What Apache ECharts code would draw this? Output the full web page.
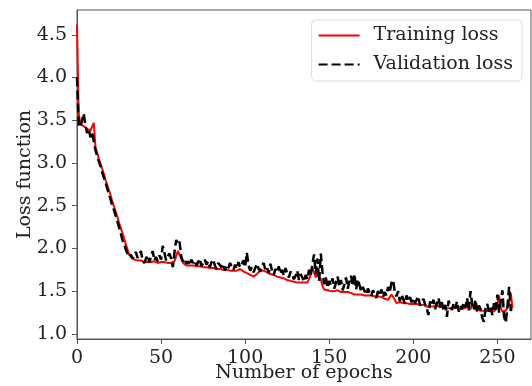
<!DOCTYPE html>
<html>
<head>
<meta charset="utf-8">
<script src="https://cdn.jsdelivr.net/npm/echarts@6/dist/echarts.min.js"></script>
<style>
  html, body { margin: 0; padding: 0; background: #fff; }
  #chart { width: 532px; height: 386px; }
</style>
</head>
<body>
<div id="chart"></div>
<script>
// loss per epoch, epoch = index
const trainLoss = [
  4.62, 3.58, 3.45, 3.44, 3.43, 3.41, 3.40, 3.41, 3.38, 3.39,
  3.47, 3.18, 3.12, 3.05, 2.99, 2.93, 2.87, 2.80, 2.74, 2.68,
  2.62, 2.55, 2.49, 2.43, 2.37, 2.30, 2.24, 2.18, 2.12, 2.05,
  1.99, 1.93, 1.90, 1.88, 1.87, 1.87, 1.86, 1.85, 1.86, 1.85,
  1.84, 1.85, 1.84, 1.85, 1.84, 1.84, 1.85, 1.84, 1.83, 1.84,
  1.84, 1.83, 1.84, 1.83, 1.83, 1.84, 1.83, 1.84, 1.85, 1.91,
  1.97, 1.95, 1.88, 1.83, 1.81, 1.80, 1.81, 1.80, 1.79, 1.80,
  1.79, 1.79, 1.78, 1.79, 1.78, 1.78, 1.77, 1.78, 1.77, 1.77,
  1.76, 1.77, 1.76, 1.76, 1.75, 1.76, 1.75, 1.75, 1.74, 1.75,
  1.74, 1.74, 1.75, 1.74, 1.73, 1.74, 1.75, 1.76, 1.74, 1.73,
  1.72, 1.71, 1.70, 1.69, 1.68, 1.67, 1.68, 1.70, 1.72, 1.74,
  1.75, 1.74, 1.73, 1.72, 1.71, 1.70, 1.69, 1.69, 1.68, 1.67,
  1.66, 1.66, 1.65, 1.65, 1.64, 1.63, 1.63, 1.62, 1.62, 1.61,
  1.61, 1.60, 1.61, 1.60, 1.61, 1.60, 1.62, 1.60, 1.64, 1.70,
  1.78, 1.72, 1.66, 1.70, 1.72, 1.64, 1.56, 1.52, 1.51, 1.51,
  1.51, 1.50, 1.51, 1.50, 1.50, 1.51, 1.50, 1.49, 1.50, 1.49,
  1.48, 1.49, 1.47, 1.48, 1.47, 1.46, 1.47, 1.46, 1.47, 1.46,
  1.46, 1.45, 1.46, 1.45, 1.44, 1.45, 1.44, 1.44, 1.43, 1.44,
  1.43, 1.43, 1.42, 1.41, 1.42, 1.40, 1.43, 1.46, 1.44, 1.40,
  1.36, 1.35, 1.37, 1.39, 1.36, 1.35, 1.36, 1.34, 1.35, 1.36,
  1.35, 1.34, 1.35, 1.36, 1.34, 1.33, 1.34, 1.33, 1.32, 1.33,
  1.32, 1.33, 1.32, 1.31, 1.33, 1.32, 1.31, 1.30, 1.32, 1.31,
  1.30, 1.31, 1.30, 1.32, 1.30, 1.29, 1.31, 1.30, 1.29, 1.31,
  1.30, 1.29, 1.31, 1.30, 1.29, 1.34, 1.30, 1.28, 1.29, 1.28,
  1.27, 1.28, 1.27, 1.26, 1.27, 1.26, 1.27, 1.25, 1.26, 1.27,
  1.33, 1.45, 1.30, 1.26, 1.25, 1.27, 1.26, 1.35, 1.48, 1.30
];

const valLoss = [
  4.00, 3.45, 3.42, 3.40, 3.58, 3.44, 3.35, 3.40, 3.30, 3.36,
  3.25, 3.15, 3.08, 3.02, 2.96, 2.89, 2.83, 2.77, 2.70, 2.63,
  2.57, 2.50, 2.45, 2.38, 2.32, 2.25, 2.18, 2.10, 2.05, 1.99,
  1.94, 1.90, 1.93, 1.88, 1.91, 1.96, 1.89, 1.92, 1.97, 1.86,
  1.83, 1.88, 1.92, 1.84, 1.90, 1.97, 1.86, 1.90, 1.85, 1.92,
  1.87, 2.03, 1.95, 1.86, 1.91, 1.94, 1.88, 1.78, 1.96, 2.10,
  2.05, 2.08, 1.90, 1.85, 1.88, 1.82, 1.85, 1.80, 1.87, 1.83,
  1.86, 1.80, 1.84, 1.88, 1.79, 1.83, 1.87, 1.81, 1.85, 1.78,
  1.84, 1.87, 1.80, 1.76, 1.83, 1.85, 1.78, 1.82, 1.74, 1.80,
  1.77, 1.83, 1.79, 1.75, 1.81, 1.76, 1.84, 1.78, 1.80, 1.86,
  1.78, 1.95, 1.80, 1.74, 1.78, 1.72, 1.77, 1.82, 1.76, 1.73,
  1.80, 1.83, 1.75, 1.78, 1.71, 1.82, 1.74, 1.69, 1.76, 1.72,
  1.79, 1.70, 1.75, 1.68, 1.77, 1.71, 1.66, 1.73, 1.69, 1.64,
  1.68, 1.74, 1.63, 1.70, 1.66, 1.61, 1.69, 1.64, 1.75, 1.68,
  1.82, 1.93, 1.70, 1.88, 1.62, 1.94, 1.72, 1.58, 1.66, 1.54,
  1.62, 1.57, 1.65, 1.53, 1.60, 1.67, 1.55, 1.63, 1.51, 1.58,
  1.66, 1.53, 1.61, 1.68, 1.56, 1.70, 1.52, 1.64, 1.57, 1.49,
  1.55, 1.50, 1.46, 1.53, 1.48, 1.44, 1.51, 1.47, 1.42, 1.50,
  1.46, 1.52, 1.43, 1.49, 1.45, 1.55, 1.48, 1.60, 1.63, 1.49,
  1.44, 1.50, 1.38, 1.46, 1.41, 1.35, 1.45, 1.39, 1.43, 1.37,
  1.42, 1.36, 1.40, 1.44, 1.33, 1.38, 1.41, 1.35, 1.30, 1.22,
  1.38, 1.33, 1.40, 1.29, 1.36, 1.42, 1.31, 1.37, 1.27, 1.34,
  1.20, 1.39, 1.32, 1.28, 1.36, 1.30, 1.38, 1.26, 1.33, 1.29,
  1.37, 1.31, 1.42, 1.27, 1.50, 1.35, 1.28, 1.40, 1.25, 1.33,
  1.29, 1.19, 1.14, 1.30, 1.35, 1.26, 1.31, 1.22, 1.36, 1.28,
  1.46, 1.25, 1.38, 1.51, 1.20, 1.13, 1.32, 1.55, 1.27, 1.33
];

const xTicks = [0, 50, 100, 150, 200, 250];
const yTicks = [1.0, 1.5, 2.0, 2.5, 3.0, 3.5, 4.0, 4.5];

const serif = "DejaVu Serif";
const axisColor = "#555";
const textColor = "#222";

const chart = echarts.init(document.getElementById("chart"));

chart.setOption({
  animation: false,
  grid: {
    left: 77, right: 1, top: 10, bottom: 47,
    outerBoundsMode: "none",
    show: true, borderColor: axisColor, borderWidth: 1
  },
  legend: {
    orient: "vertical",
    right: 10,
    top: 20,
    align: "left",
    itemWidth: 41,
    itemHeight: 14,
    itemGap: 10,
    padding: [6, 9, 7, 6],
    backgroundColor: "#fff",
    borderColor: "#ddd",
    borderWidth: 1,
    borderRadius: 4,
    itemStyle: { opacity: 0 },
    textStyle: { fontFamily: serif, fontSize: 19, color: textColor, padding: [0, 0, 0, 9] },
    data: ["Training loss", "Validation loss"]
  },
  xAxis: {
    type: "value",
    min: 0,
    max: 270,
    name: "Number of epochs",
    nameLocation: "middle",
    nameGap: 25,
    nameMoveOverlap: false,
    nameTextStyle: { fontFamily: serif, fontSize: 19, color: textColor, verticalAlign: "top" },
    splitLine: { show: false },
    axisLine: { show: true, lineStyle: { color: axisColor, width: 1 } },
    axisTick: { show: true, length: 5, customValues: xTicks, lineStyle: { color: axisColor } },
    axisLabel: { customValues: xTicks, margin: 10, fontFamily: serif, fontSize: 19, color: textColor }
  },
  yAxis: {
    type: "value",
    min: 0.94,
    max: 4.79,
    name: "Loss function",
    nameLocation: "middle",
    nameGap: 42,
    nameMoveOverlap: false,
    nameTextStyle: { fontFamily: serif, fontSize: 19, color: textColor },
    splitLine: { show: false },
    axisLine: { show: true, lineStyle: { color: axisColor, width: 1 } },
    axisTick: { show: true, length: 5, customValues: yTicks, lineStyle: { color: axisColor } },
    axisLabel: {
      customValues: yTicks, margin: 10, fontFamily: serif, fontSize: 19, color: textColor,
      formatter: (v) => v.toFixed(1)
    }
  },
  series: [
    {
      name: "Training loss",
      type: "line",
      symbol: "none",
      data: trainLoss.map((v, i) => [i, v]),
      lineStyle: { color: "#ff0000", width: 2 },
      itemStyle: { color: "#ff0000" }
    },
    {
      name: "Validation loss",
      type: "line",
      symbol: "none",
      data: valLoss.map((v, i) => [i, v]),
      lineStyle: { color: "#000", width: 2.5, type: [9, 4] },
      itemStyle: { color: "#000" }
    }
  ]
});
</script>
</body>
</html>
